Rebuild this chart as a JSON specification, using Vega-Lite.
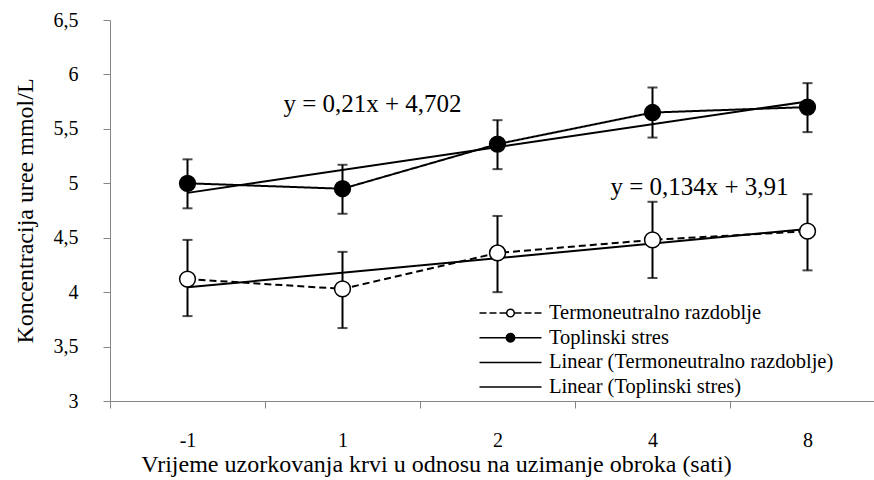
{
  "$schema": "https://vega.github.io/schema/vega-lite/v6.json",
  "width": 764,
  "height": 381,
  "autosize": "none",
  "padding": {"left": 110, "top": 20, "right": 0, "bottom": 79},
  "background": "white",
  "config": {
    "view": {"stroke": null},
    "style": {
      "guide-label": {"font": "Liberation Serif", "fill": "black"},
      "guide-title": {"font": "Liberation Serif", "fill": "black"}
    },
    "axis": {
      "labelFont": "Liberation Serif",
      "titleFont": "Liberation Serif",
      "labelColor": "black",
      "titleColor": "black",
      "labelFontSize": 20,
      "titleFontSize": 24,
      "titleFontWeight": "normal",
      "domainColor": "#868686",
      "tickColor": "#868686",
      "domainWidth": 1,
      "tickWidth": 1,
      "tickSize": 7,
      "grid": false
    }
  },
  "datasets": {
    "points": [
      {"time": "-1", "series": "Termoneutralno razdoblje", "mean": 4.12, "lo": 3.78, "hi": 4.48},
      {"time": "1", "series": "Termoneutralno razdoblje", "mean": 4.03, "lo": 3.67, "hi": 4.37},
      {"time": "2", "series": "Termoneutralno razdoblje", "mean": 4.36, "lo": 4.0, "hi": 4.7},
      {"time": "4", "series": "Termoneutralno razdoblje", "mean": 4.48, "lo": 4.13, "hi": 4.83},
      {"time": "8", "series": "Termoneutralno razdoblje", "mean": 4.56, "lo": 4.2, "hi": 4.9},
      {"time": "-1", "series": "Toplinski stres", "mean": 5.0, "lo": 4.77, "hi": 5.22},
      {"time": "1", "series": "Toplinski stres", "mean": 4.95, "lo": 4.72, "hi": 5.17},
      {"time": "2", "series": "Toplinski stres", "mean": 5.36, "lo": 5.13, "hi": 5.58},
      {"time": "4", "series": "Toplinski stres", "mean": 5.65, "lo": 5.42, "hi": 5.88},
      {"time": "8", "series": "Toplinski stres", "mean": 5.7, "lo": 5.47, "hi": 5.92}
    ],
    "trend": [
      {"time": "-1", "series": "Linear (Termoneutralno razdoblje)", "value": 4.044},
      {"time": "8", "series": "Linear (Termoneutralno razdoblje)", "value": 4.58},
      {"time": "-1", "series": "Linear (Toplinski stres)", "value": 4.912},
      {"time": "8", "series": "Linear (Toplinski stres)", "value": 5.752}
    ],
    "legendItems": [
      {"item": "Termoneutralno razdoblje"},
      {"item": "Toplinski stres"},
      {"item": "Linear (Termoneutralno razdoblje)"},
      {"item": "Linear (Toplinski stres)"}
    ],
    "eq1": [{"time": "1", "value": 5.658, "label": "y = 0,21x + 4,702"}],
    "eq2": [{"time": "4", "value": 4.89, "label": "y = 0,134x + 3,91"}]
  },
  "layer": [
    {
      "data": {"name": "trend"},
      "mark": {"type": "line", "color": "black", "strokeWidth": 2},
      "encoding": {
        "x": {
          "field": "time", "type": "ordinal", "sort": ["-1", "1", "2", "4", "8"],
          "scale": {"type": "band", "domain": ["-1", "1", "2", "4", "8"], "range": [0, 775], "paddingInner": 0, "paddingOuter": 0},
          "axis": {"title": "Vrijeme uzorkovanja krvi u odnosu na uzimanje obroka (sati)", "labelAngle": 0, "tickBand": "extent", "labelPadding": 22, "titlePadding": 2, "titleX": 326, "titleAlign": "center", "titleAnchor": "middle", "labelFont": "Liberation Serif", "titleFont": "Liberation Serif", "labelFontSize": 20, "titleFontSize": 24, "labelColor": "black", "titleColor": "black"}
        },
        "y": {
          "field": "value", "type": "quantitative",
          "scale": {"domain": [3, 6.5], "nice": false, "zero": false},
          "axis": {"title": "Koncentracija uree mmol/L", "values": [3, 3.5, 4, 4.5, 5, 5.5, 6, 6.5], "labelExpr": "replace(format(datum.value, '.1~f'), '.', ',')", "labelPadding": 25, "titlePadding": 16, "labelFont": "Liberation Serif", "titleFont": "Liberation Serif", "labelFontSize": 20, "titleFontSize": 24, "labelColor": "black", "titleColor": "black"}
        },
        "detail": {"field": "series"}
      }
    },
    {
      "data": {"name": "points"},
      "mark": {"type": "line", "color": "black", "strokeWidth": 2},
      "encoding": {
        "x": {"field": "time", "type": "ordinal", "sort": ["-1", "1", "2", "4", "8"], "title": "Vrijeme uzorkovanja krvi u odnosu na uzimanje obroka (sati)"},
        "y": {"field": "mean", "type": "quantitative", "title": "Koncentracija uree mmol/L"},
        "strokeDash": {
          "field": "series", "type": "nominal",
          "scale": {"domain": ["Termoneutralno razdoblje", "Toplinski stres"], "range": [[7, 4], [1, 0]]},
          "legend": null
        }
      }
    },
    {
      "data": {"name": "points"},
      "mark": {"type": "rule", "color": "black", "strokeWidth": 2},
      "encoding": {
        "x": {"field": "time", "type": "ordinal", "sort": ["-1", "1", "2", "4", "8"], "title": "Vrijeme uzorkovanja krvi u odnosu na uzimanje obroka (sati)"},
        "y": {"field": "lo", "type": "quantitative", "title": "Koncentracija uree mmol/L"},
        "y2": {"field": "hi"}
      }
    },
    {
      "data": {"name": "points"},
      "mark": {"type": "tick", "color": "black", "size": 10, "thickness": 2, "orient": "horizontal"},
      "encoding": {
        "x": {"field": "time", "type": "ordinal", "sort": ["-1", "1", "2", "4", "8"], "title": "Vrijeme uzorkovanja krvi u odnosu na uzimanje obroka (sati)"},
        "y": {"field": "lo", "type": "quantitative", "title": "Koncentracija uree mmol/L"}
      }
    },
    {
      "data": {"name": "points"},
      "mark": {"type": "tick", "color": "black", "size": 10, "thickness": 2, "orient": "horizontal"},
      "encoding": {
        "x": {"field": "time", "type": "ordinal", "sort": ["-1", "1", "2", "4", "8"], "title": "Vrijeme uzorkovanja krvi u odnosu na uzimanje obroka (sati)"},
        "y": {"field": "hi", "type": "quantitative", "title": "Koncentracija uree mmol/L"}
      }
    },
    {
      "data": {"name": "points"},
      "mark": {"type": "point", "shape": "circle", "filled": true, "size": 250, "stroke": "black", "strokeWidth": 1.5, "opacity": 1},
      "encoding": {
        "x": {"field": "time", "type": "ordinal", "sort": ["-1", "1", "2", "4", "8"], "title": "Vrijeme uzorkovanja krvi u odnosu na uzimanje obroka (sati)"},
        "y": {"field": "mean", "type": "quantitative", "title": "Koncentracija uree mmol/L"},
        "fill": {"condition": {"test": "datum.series == 'Toplinski stres'", "value": "black"}, "value": "white"}
      }
    },
    {
      "data": {"name": "eq1"},
      "mark": {"type": "text", "align": "center", "baseline": "alphabetic", "dx": 30, "fontSize": 25, "font": "Liberation Serif", "color": "black"},
      "encoding": {
        "x": {"field": "time", "type": "ordinal", "sort": ["-1", "1", "2", "4", "8"], "title": "Vrijeme uzorkovanja krvi u odnosu na uzimanje obroka (sati)"},
        "y": {"field": "value", "type": "quantitative", "title": "Koncentracija uree mmol/L"},
        "text": {"field": "label"}
      }
    },
    {
      "data": {"name": "eq2"},
      "mark": {"type": "text", "align": "center", "baseline": "alphabetic", "dx": 47, "fontSize": 25, "font": "Liberation Serif", "color": "black"},
      "encoding": {
        "x": {"field": "time", "type": "ordinal", "sort": ["-1", "1", "2", "4", "8"], "title": "Vrijeme uzorkovanja krvi u odnosu na uzimanje obroka (sati)"},
        "y": {"field": "value", "type": "quantitative", "title": "Koncentracija uree mmol/L"},
        "text": {"field": "label"}
      }
    },
    {
      "data": {"name": "legendItems"},
      "transform": [{"filter": "false"}],
      "mark": {"type": "point", "filled": true, "stroke": "black", "strokeWidth": 2, "color": "black", "opacity": 1},
      "encoding": {
        "shape": {
          "field": "item", "type": "nominal",
          "scale": {
            "domain": ["Termoneutralno razdoblje", "Toplinski stres", "Linear (Termoneutralno razdoblje)", "Linear (Toplinski stres)"],
            "range": [
              "M-3.1,0L-2.4,0M-2.1,0L-1.4,0M-1.1,0L-0.4,0M0.4,0L1.1,0M1.4,0L2.1,0M2.4,0L3.1,0M0.38,0C0.38,0.21 0.21,0.38 0,0.38C-0.21,0.38 -0.38,0.21 -0.38,0C-0.38,-0.21 -0.21,-0.38 0,-0.38C0.21,-0.38 0.38,-0.21 0.38,0Z",
              "M-3.1,0L-0.4,0M0.4,0L3.1,0M0.42,0C0.42,0.232 0.232,0.42 0,0.42C-0.232,0.42 -0.42,0.232 -0.42,0C-0.42,-0.232 -0.232,-0.42 0,-0.42C0.232,-0.42 0.42,-0.232 0.42,0Z",
              "M-3.1,0L3.1,0",
              "M-3.1,0L3.1,0"
            ]
          },
          "legend": {"orient": "none", "legendX": 389.5, "legendY": 282, "title": null, "symbolSize": 400, "labelOffset": 27.5, "labelFontSize": 20.5, "labelFont": "Liberation Serif", "labelColor": "black", "labelLimit": 400, "rowPadding": 2.7, "padding": 0,
            "encode": {"symbols": {"update": {"stroke": {"value": "black"}, "strokeWidth": {"value": 1.8}, "opacity": {"value": 1}}}}}
        },
        "fill": {
          "field": "item", "type": "nominal",
          "scale": {
            "domain": ["Termoneutralno razdoblje", "Toplinski stres", "Linear (Termoneutralno razdoblje)", "Linear (Toplinski stres)"],
            "range": ["white", "black", "transparent", "transparent"]
          },
          "legend": {"orient": "none", "legendX": 389.5, "legendY": 282, "title": null, "symbolSize": 400, "labelOffset": 27.5, "labelFontSize": 20.5, "labelFont": "Liberation Serif", "labelColor": "black", "labelLimit": 400, "rowPadding": 2.7, "padding": 0,
            "encode": {"symbols": {"update": {"stroke": {"value": "black"}, "strokeWidth": {"value": 1.8}, "opacity": {"value": 1}}}}}
        }
      }
    }
  ]
}
